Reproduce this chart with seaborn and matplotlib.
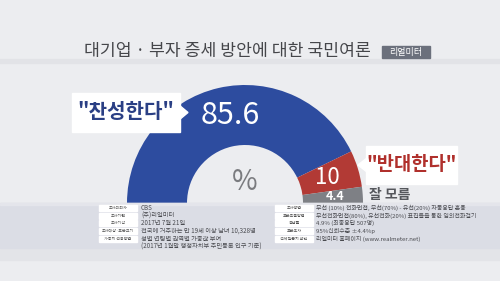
import numpy as np
import matplotlib
matplotlib.use("Agg")
import matplotlib.pyplot as plt
from matplotlib.patches import Rectangle, Polygon
import seaborn as sns

# ---------------- data ----------------
categories = ["찬성한다", "반대한다", "잘 모름"]
values = [85.6, 10, 4.4]
value_labels = ["85.6", "10", "4.4"]
colors = ["#2D4C9F", "#B23A35", "#7E8085"]

title = "대기업 · 부자 증세 방안에 대한 국민여론"
badge = "리얼미터"

left_keys = ["조사의뢰자", "조사기관", "조사기간", "조사대상·표본크기", "가중치 적용방법"]
left_vals = ["CBS", "(주)리얼미터", "2017년 7월 21일",
             "전국에 거주하는 만 19세 이상 남녀 10,328명",
             "성별 연령별 권역별 가중값 부여",
             "(2017년 1월말 행정자치부 주민등록 인구 기준)"]
right_keys = ["조사방법", "표본추출방법", "응답률", "표본오차", "전체질문지 확인"]
right_vals = ["무선 (10%) 전화면접, 무선(70%) - 유선(20%) 자동응답 혼용",
              "무선전화면접(80%), 유선전화(20%) 표집틀을 통한 임의전화걸기",
              "4.9% (최종응답 507명)",
              "95%신뢰수준 ±4.4%p",
              "리얼미터 홈페이지 (www.realmeter.net)"]

# ---------------- style ----------------
sns.set_theme(style="white")
plt.rcParams['font.family'] = ['Noto Sans CJK KR', 'DejaVu Sans']

W, H = 500, 281
fig = plt.figure(figsize=(5, 2.81), dpi=100)
fig.patch.set_facecolor("#ECEDF0")
ax = fig.add_axes([0, 0, 1, 1])
ax.set_facecolor("#ECEDF0")


def Y(py):
    return H - py


# donut geometry (pixels)
cx, cy, R, ring = 245, 203, 118, 60

fracs = [v / 200.0 for v in values]  # half-circle donut
wedges, _ = ax.pie(fracs, normalize=False, startangle=180, counterclock=False,
                   colors=colors, radius=R, center=(cx, Y(cy)),
                   wedgeprops=dict(width=ring, linewidth=0), frame=True)
ax.set_xlim(0, W)
ax.set_ylim(0, H)
ax.set_aspect('auto')
ax.axis('off')

# background bands
ax.add_patch(Rectangle((0, Y(63)), W, 4, color="#E2E3E7", zorder=1))
ax.add_patch(Rectangle((0, Y(260)), W, 12, color="#E3E4E8", zorder=5))
ax.add_patch(Rectangle((0, Y(248)), W, 45, color="#DBDDE5", zorder=5))
ax.add_patch(Rectangle((0, Y(205)), W, 2, color="#E4E5EB", zorder=5))

# title + badge
ax.text(227, Y(51), title, ha='center', va='center', fontsize=12.4,
        color="#45464A", zorder=6)
ax.add_patch(Rectangle((382, Y(58)), 48, 12, color="#6B707C", zorder=6))
ax.text(406, Y(52), badge, ha='center', va='center', fontsize=6.5,
        color="white", zorder=7)

# wedge value labels at wedge centroids
mid_r = R - ring / 2
angles = []
start = 180.0
for f in fracs:
    span = f * 360.0
    angles.append(start - span / 2)
    start -= span
label_sizes = [22, 16, 9]
label_r = [mid_r + 4, mid_r - 2, mid_r + 2]
for lab, a, fs, rr in zip(value_labels, angles, label_sizes, label_r):
    if lab == "85.6":
        x, y = 230, Y(116)
    else:
        x = cx + rr * np.cos(np.radians(a))
        y = Y(cy) + rr * np.sin(np.radians(a))
    ax.text(x, y, lab, ha='center', va='center', fontsize=fs, color='white',
            fontweight='bold' if fs < 12 else 'normal', zorder=7)

# percent sign in hole
ax.text(245, Y(182), "%", ha='center', va='center', fontsize=20,
        color="#7A7B7F", zorder=7)

# callout 1 (찬성한다)
ax.add_patch(Rectangle((72, Y(132)), 108, 39, color="white", zorder=6))
ax.add_patch(Polygon([(179, Y(105)), (188, Y(112.5)), (179, Y(120))],
                     closed=True, color="white", zorder=6))
ax.text(126, Y(112), '"' + categories[0] + '"', ha='center', va='center',
        fontsize=14.5, fontweight='bold', color="#2A3F84", zorder=7)

# callout 2 (반대한다)
ax.add_patch(Rectangle((366, Y(184)), 91, 38, color="white", zorder=6))
ax.add_patch(Polygon([(367, Y(158)), (358, Y(165)), (367, Y(172))],
                     closed=True, color="white", zorder=6))
ax.text(411.5, Y(165), '"' + categories[1] + '"', ha='center', va='center',
        fontsize=13.5, fontweight='bold', color="#B0302C", zorder=7)

# 잘 모름
ax.text(369, Y(195), categories[2], ha='left', va='center', fontsize=10,
        fontweight='bold', color="#55575C", zorder=7)

# survey info tables
row_y = [208, 215.7, 223.3, 231, 238.7, 246.3]


def table(x0, x1, xv, keys, vals, fs):
    for i, k in enumerate(keys):
        ax.add_patch(Rectangle((x0, Y(row_y[i] + 3)), x1 - x0, 6,
                               color="white", zorder=6))
        ax.text((x0 + x1) / 2, Y(row_y[i]), k, ha='center', va='center',
                fontsize=2.9, color="#555", zorder=7)
    for i, v in enumerate(vals):
        ax.text(xv, Y(row_y[i]), v, ha='left', va='center', fontsize=fs,
                color="#4A4B50", zorder=7)


table(99, 137, 141, left_keys, left_vals, 4.5)
table(275, 313, 316, right_keys, right_vals, 4.3)

fig.savefig("out.png", dpi=100, facecolor=fig.get_facecolor())
